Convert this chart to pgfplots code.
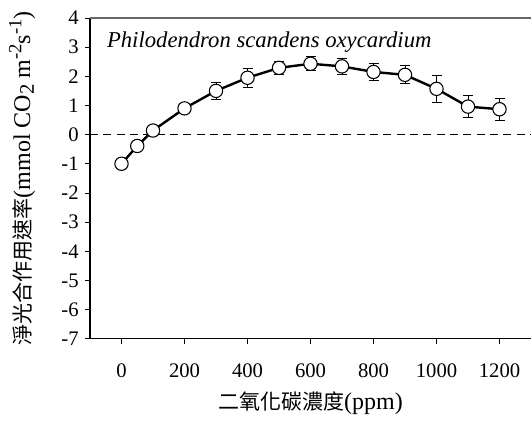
\documentclass[border=0pt]{standalone}
\usepackage{fontspec}
\setmainfont{Liberation Serif}
\newfontfamily\cjk[Scale=0.875]{Noto Sans CJK TC}
\usepackage{pgfplots}
\usepackage{pgfplotstable}
\pgfplotsset{compat=1.18}

% CO2 concentration (ppm), net photosynthesis rate, error
\pgfplotstableread{
x     y     e
0    -1.00  0
50   -0.39  0
100   0.14  0
200   0.90  0
300   1.50  0.29
400   1.95  0.32
500   2.29  0.22
600   2.43  0.24
700   2.34  0.26
800   2.15  0.28
900   2.05  0.31
1000  1.57  0.45
1100  0.96  0.37
1200  0.87  0.38
}\rate

\newcommand{\chartfont}{\fontsize{15.5}{18}\selectfont}
\newcommand{\labelfont}{\fontsize{18}{21}\selectfont}
\newcommand{\supr}[1]{\raisebox{0.8ex}{\fontsize{14}{14}\selectfont #1}}
\newcommand{\subr}[1]{\raisebox{-0.35ex}{\fontsize{15.5}{15.5}\selectfont #1}}

\begin{document}
\begin{tikzpicture}
\begin{axis}[
    name=ax,
    scale only axis,
    width=330.75pt, height=240.5pt,
    xmin=-100, xmax=1300,
    ymin=-7, ymax=4,
    axis lines*=left,
    xtick={0,200,...,1200},
    ytick={-7,-6,...,4},
    tick align=outside,
    major tick length=4pt,
    tick style={black, line width=0.6pt},
    axis line style={line width=0.8pt},
    tick label style={font=\chartfont},
    label style={font=\labelfont},
    /pgf/number format/assume math mode=true,
    /pgf/number format/1000 sep={},
    xticklabel style={yshift=-11pt},
    yticklabel style={xshift=-1pt},
    xlabel={{\cjk 二氧化碳濃度}(ppm)},
    ylabel={{\cjk 淨光合作用速率}(mmol CO\subr{2} m\supr{-2}s\supr{-1})},
    xlabel style={at={(axis description cs:0.5,-0.2)}, anchor=center},
    ylabel style={at={(axis description cs:-0.154,0.5)}, anchor=center},
    clip=false,
]
\addplot[black, dashed, line width=0.7pt, dash pattern=on 6pt off 4pt] coordinates {(-100,0) (1300,0)};
\addplot[black, line width=1.8pt, mark=*, mark size=5pt,
    mark options={fill=white, draw=black, line width=0.8pt, solid},
    error bars/.cd, y dir=both, y explicit,
    error bar style={line width=0.6pt, black},
    error mark options={rotate=90, mark size=3.75pt, line width=0.6pt, black}]
    table[x=x, y=y, y error=e] {\rate};
\draw[gray!80!black, line width=0.8pt] (rel axis cs:0,1) -- (rel axis cs:1,1);
\node[anchor=west, font=\fontsize{17}{20}\selectfont\itshape] at (rel axis cs:0.028,0.925) {Philodendron scandens oxycardium};
\end{axis}
\pgfresetboundingbox
\path (ax.south west) ++(-67.5pt,-63.2pt) rectangle (ax.north east) ++(0pt,13.5pt);
\end{tikzpicture}
\end{document}
